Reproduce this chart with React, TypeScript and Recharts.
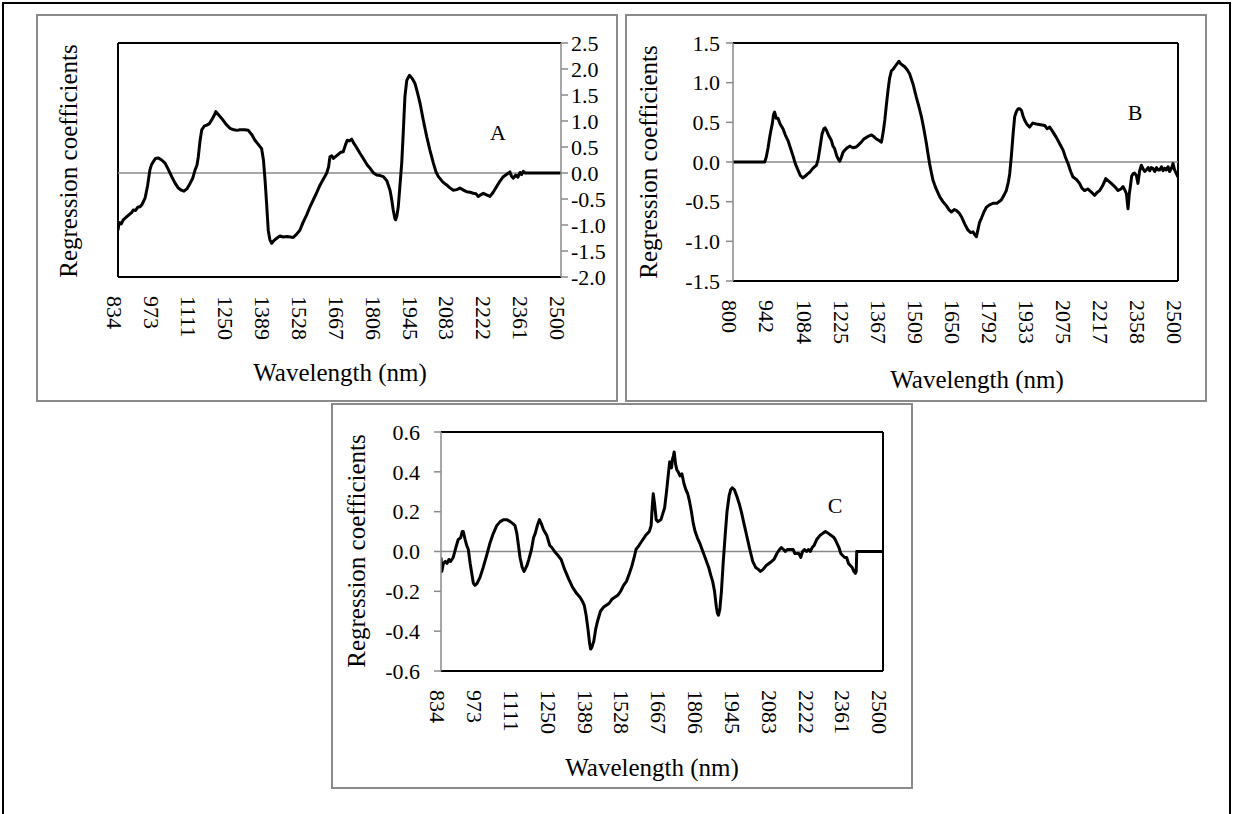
import { LineChart, Line, XAxis, YAxis, ReferenceLine } from "recharts";

const FONT = "'Liberation Serif', 'Times New Roman', Times, serif";
const GRAY = "#8a8a8a";

// tick labels
const ticksA = [834, 973, 1111, 1250, 1389, 1528, 1667, 1806, 1945, 2083, 2222, 2361, 2500];
const ticksB = [800, 942, 1084, 1225, 1367, 1509, 1650, 1792, 1933, 2075, 2217, 2358, 2500];
const ticksC = ticksA;
const yTicksA = [-2, -1.5, -1, -0.5, 0, 0.5, 1, 1.5, 2, 2.5];
const yTicksB = [-1.5, -1, -0.5, 0, 0.5, 1, 1.5];
const yTicksC = [-0.6, -0.4, -0.2, 0, 0.2, 0.4, 0.6];

// [wavelength (nm), regression coefficient]
const seriesA: [number, number][] = [
  [834, -1.1], [838, -0.95], [846, -0.98], [854, -0.9], [865, -0.85], [876, -0.8], [885, -0.76],
  [892, -0.71], [900, -0.72], [908, -0.66], [917, -0.65], [925, -0.6], [936, -0.48], [945, -0.25],
  [954, 0.06], [960, 0.16], [967, 0.22], [975, 0.28], [986, 0.29], [998, 0.25], [1011, 0.19],
  [1024, 0.06], [1036, -0.07], [1048, -0.19], [1061, -0.29], [1072, -0.33], [1082, -0.35],
  [1094, -0.3], [1105, -0.2], [1115, -0.1], [1124, 0.06], [1131, 0.15], [1136, 0.31], [1142, 0.6],
  [1149, 0.83], [1158, 0.9], [1168, 0.92], [1178, 0.95], [1186, 1.02], [1195, 1.1], [1202, 1.18],
  [1212, 1.12], [1224, 1.05], [1240, 0.94], [1255, 0.86], [1270, 0.83], [1282, 0.82], [1293, 0.83],
  [1310, 0.83], [1324, 0.82], [1338, 0.73], [1349, 0.63], [1360, 0.56], [1374, 0.47], [1381, 0.25],
  [1387, -0.13], [1393, -0.6], [1399, -1.1], [1405, -1.28], [1412, -1.35], [1420, -1.3],
  [1430, -1.26], [1443, -1.21], [1455, -1.23], [1470, -1.22], [1482, -1.23], [1493, -1.24],
  [1505, -1.18], [1518, -1.1], [1530, -0.95], [1544, -0.8], [1556, -0.65], [1570, -0.5],
  [1583, -0.36], [1594, -0.23], [1606, -0.12], [1619, 0], [1626, 0.12], [1631, 0.31], [1638, 0.33],
  [1644, 0.28], [1660, 0.35], [1672, 0.4], [1681, 0.41], [1690, 0.55], [1696, 0.63], [1705, 0.62],
  [1713, 0.65], [1720, 0.58], [1730, 0.5], [1744, 0.38], [1760, 0.25], [1772, 0.15], [1782, 0.09],
  [1795, 0], [1807, -0.04], [1820, -0.05], [1832, -0.07], [1845, -0.15], [1857, -0.33],
  [1863, -0.5], [1869, -0.71], [1875, -0.87], [1878, -0.9], [1883, -0.82], [1888, -0.65],
  [1895, -0.2], [1901, 0.19], [1907, 0.8], [1913, 1.47], [1920, 1.78], [1930, 1.88], [1940, 1.82],
  [1951, 1.72], [1960, 1.55], [1970, 1.34], [1982, 1.02], [1995, 0.7], [2007, 0.44], [2020, 0.19],
  [2030, 0.02], [2039, -0.07], [2055, -0.17], [2070, -0.23], [2083, -0.29], [2095, -0.33],
  [2108, -0.32], [2120, -0.29], [2133, -0.33], [2145, -0.36], [2158, -0.37], [2170, -0.39],
  [2180, -0.4], [2189, -0.45], [2198, -0.42], [2208, -0.39], [2220, -0.42], [2233, -0.45],
  [2245, -0.37], [2258, -0.26], [2270, -0.16], [2283, -0.07], [2295, -0.03], [2308, 0.02],
  [2314, -0.06], [2320, -0.1], [2330, -0.04], [2338, -0.08], [2346, 0.01], [2352, -0.03],
  [2358, 0.03], [2365, 0], [2500, 0],
];

const seriesB: [number, number][] = [
  [800, 0], [921, 0], [927, 0.06], [934, 0.18], [940, 0.31], [945, 0.4], [950, 0.48], [955, 0.6],
  [959, 0.63], [965, 0.55], [972, 0.55], [980, 0.48], [991, 0.42], [1000, 0.34], [1010, 0.27],
  [1020, 0.17], [1029, 0.08], [1038, -0.02], [1048, -0.1], [1057, -0.17], [1067, -0.2],
  [1075, -0.18], [1085, -0.15], [1093, -0.13], [1105, -0.08], [1119, -0.04], [1125, 0.03],
  [1131, 0.15], [1140, 0.35], [1147, 0.42], [1152, 0.43], [1157, 0.4], [1166, 0.33], [1176, 0.27],
  [1182, 0.2], [1188, 0.17], [1196, 0.08], [1203, 0.03], [1208, 0.01], [1214, 0.06], [1220, 0.12],
  [1227, 0.15], [1237, 0.18], [1246, 0.2], [1258, 0.18], [1271, 0.19], [1281, 0.22], [1290, 0.25],
  [1300, 0.29], [1310, 0.31], [1320, 0.33], [1329, 0.34], [1338, 0.32], [1348, 0.29], [1358, 0.27],
  [1367, 0.25], [1374, 0.38], [1380, 0.53], [1386, 0.72], [1392, 0.9], [1398, 1.05], [1405, 1.15],
  [1412, 1.17], [1418, 1.2], [1425, 1.23], [1434, 1.27], [1440, 1.24], [1448, 1.22], [1456, 1.2],
  [1466, 1.16], [1475, 1.11], [1488, 0.98], [1500, 0.82], [1510, 0.7], [1520, 0.57], [1530, 0.4],
  [1539, 0.23], [1545, 0.1], [1551, -0.02], [1557, -0.12], [1564, -0.23], [1575, -0.33],
  [1590, -0.44], [1602, -0.5], [1615, -0.55], [1625, -0.6], [1634, -0.63], [1645, -0.6],
  [1653, -0.61], [1663, -0.64], [1673, -0.69], [1685, -0.78], [1698, -0.86], [1708, -0.89],
  [1717, -0.88], [1724, -0.92], [1730, -0.94], [1736, -0.85], [1742, -0.76], [1750, -0.7],
  [1760, -0.62], [1768, -0.57], [1780, -0.54], [1793, -0.52], [1808, -0.52], [1825, -0.48],
  [1835, -0.42], [1844, -0.36], [1852, -0.25], [1857, -0.15], [1863, 0.06], [1870, 0.35],
  [1876, 0.57], [1883, 0.64], [1889, 0.67], [1896, 0.67], [1902, 0.65], [1908, 0.58], [1914, 0.53],
  [1922, 0.48], [1933, 0.44], [1945, 0.49], [1959, 0.48], [1975, 0.47], [1991, 0.46], [2000, 0.42],
  [2010, 0.44], [2022, 0.38], [2035, 0.31], [2048, 0.23], [2061, 0.15], [2070, 0.06], [2080, -0.02],
  [2090, -0.12], [2099, -0.19], [2112, -0.22], [2124, -0.27], [2133, -0.33], [2143, -0.36],
  [2155, -0.34], [2169, -0.38], [2182, -0.42], [2192, -0.38], [2201, -0.36], [2212, -0.3],
  [2224, -0.21], [2235, -0.24], [2245, -0.27], [2258, -0.31], [2271, -0.36], [2282, -0.34],
  [2290, -0.31], [2298, -0.36], [2303, -0.4], [2309, -0.59], [2314, -0.4], [2318, -0.31],
  [2323, -0.18], [2328, -0.15], [2334, -0.14], [2341, -0.17], [2347, -0.27], [2353, -0.12],
  [2360, -0.04], [2367, -0.09], [2373, -0.12], [2379, -0.1], [2386, -0.07], [2392, -0.11],
  [2398, -0.07], [2404, -0.08], [2411, -0.12], [2418, -0.07], [2424, -0.1], [2430, -0.1],
  [2437, -0.06], [2443, -0.11], [2449, -0.08], [2455, -0.1], [2462, -0.06], [2468, -0.12],
  [2475, -0.08], [2481, -0.02], [2487, -0.1], [2493, -0.14], [2500, -0.19],
];

const seriesC: [number, number][] = [
  [834, -0.03], [837, -0.1], [843, -0.06], [850, -0.05], [857, -0.06], [864, -0.04], [870, -0.05],
  [880, -0.03], [890, 0.02], [899, 0.06], [908, 0.07], [914, 0.1], [918, 0.1], [925, 0.06],
  [931, 0.03], [937, 0.01], [944, -0.06], [950, -0.11], [956, -0.16], [962, -0.17], [970, -0.16],
  [981, -0.13], [993, -0.08], [1006, -0.02], [1018, 0.04], [1031, 0.09], [1044, 0.13], [1057, 0.15],
  [1070, 0.16], [1082, 0.16], [1095, 0.15], [1105, 0.14], [1113, 0.13], [1120, 0.09], [1126, 0.03],
  [1132, -0.03], [1140, -0.08], [1147, -0.1], [1151, -0.09], [1158, -0.07], [1165, -0.04],
  [1175, 0.01], [1183, 0.07], [1189, 0.09], [1197, 0.13], [1205, 0.16], [1212, 0.14], [1220, 0.11],
  [1233, 0.08], [1244, 0.03], [1252, 0.02], [1262, 0], [1275, -0.02], [1287, -0.04], [1300, -0.09],
  [1316, -0.14], [1330, -0.18], [1345, -0.21], [1358, -0.23], [1367, -0.25], [1374, -0.27],
  [1381, -0.32], [1388, -0.39], [1394, -0.46], [1398, -0.49], [1403, -0.48], [1410, -0.45],
  [1417, -0.39], [1424, -0.35], [1435, -0.3], [1446, -0.28], [1457, -0.27], [1468, -0.26],
  [1478, -0.24], [1489, -0.23], [1500, -0.22], [1511, -0.2], [1522, -0.17], [1533, -0.15],
  [1544, -0.11], [1554, -0.07], [1562, -0.03], [1569, 0.01], [1580, 0.03], [1590, 0.05],
  [1605, 0.08], [1619, 0.1], [1626, 0.13], [1630, 0.22], [1634, 0.29], [1639, 0.24], [1645, 0.16],
  [1652, 0.15], [1663, 0.16], [1670, 0.19], [1677, 0.22], [1684, 0.3], [1691, 0.39], [1696, 0.45],
  [1699, 0.44], [1703, 0.42], [1706, 0.46], [1710, 0.48], [1713, 0.5], [1718, 0.44], [1723, 0.41],
  [1728, 0.4], [1735, 0.38], [1742, 0.39], [1750, 0.34], [1757, 0.31], [1764, 0.29], [1771, 0.25],
  [1778, 0.2], [1785, 0.14], [1792, 0.1], [1800, 0.07], [1810, 0.04], [1821, 0], [1832, -0.04],
  [1843, -0.08], [1851, -0.12], [1858, -0.15], [1865, -0.2], [1872, -0.28], [1876, -0.31],
  [1880, -0.32], [1885, -0.29], [1891, -0.2], [1898, -0.05], [1905, 0.08], [1912, 0.2], [1920, 0.28],
  [1926, 0.31], [1932, 0.32], [1940, 0.31], [1951, 0.27], [1958, 0.24], [1966, 0.2], [1976, 0.14],
  [1988, 0.07], [1998, 0.01], [2009, -0.05], [2020, -0.08], [2030, -0.09], [2038, -0.1],
  [2048, -0.09], [2060, -0.07], [2070, -0.06], [2080, -0.05], [2089, -0.04], [2100, -0.01],
  [2110, 0.01], [2117, 0.02], [2125, 0.01], [2132, 0], [2139, 0.01], [2146, 0.01], [2154, 0.01],
  [2161, 0.01], [2168, -0.01], [2176, -0.01], [2183, -0.01], [2190, -0.03], [2197, 0], [2204, 0.01],
  [2212, 0], [2219, 0.01], [2226, 0], [2233, 0.02], [2240, 0.03], [2250, 0.06], [2262, 0.08],
  [2272, 0.09], [2283, 0.1], [2295, 0.09], [2305, 0.08], [2315, 0.07], [2320, 0.06], [2327, 0.04],
  [2334, 0.02], [2341, -0.01], [2348, -0.02], [2356, -0.03], [2363, -0.03], [2370, -0.06],
  [2377, -0.07], [2384, -0.08], [2390, -0.1], [2396, -0.11], [2399, -0.1], [2401, 0], [2500, 0],
];

const toRows = (s: [number, number][]) => s.map(([w, v]) => ({ w, v }));

function XTick(props: any) {
  const { x, y, payload } = props;
  const tx = x - 3;
  const ty = y + 19;
  return (
    <text x={tx} y={ty} transform={`rotate(90 ${tx} ${ty})`} textAnchor="start" dy="0.35em"
      fontSize={22} fontFamily={FONT} fill="#000">
      {payload.value}
    </text>
  );
}

type PanelProps = {
  box: { left: number; top: number; width: number; height: number };
  series: [number, number][];
  xTicks: number[];
  yTicks: number[];
  yRight?: boolean;
  yWidth: number;
  xHeight: number;
  tickMargin: number;
  margin: { top: number; right: number; bottom: number; left: number };
};

function Panel({ box, series, xTicks, yTicks, yRight, yWidth, xHeight, tickMargin, margin }: PanelProps) {
  const xMin = xTicks[0];
  const xMax = xTicks[xTicks.length - 1];
  const yMin = yTicks[0];
  const yMax = yTicks[yTicks.length - 1];
  return (
    <>
      <div style={{ position: "absolute", left: box.left, top: box.top }}>
        <LineChart width={box.width} height={box.height} data={toRows(series)} margin={margin}>
          <XAxis dataKey="w" type="number" domain={[xMin, xMax]} ticks={xTicks} interval={0}
            allowDataOverflow axisLine={false} tickLine={false} tickSize={0} tickMargin={0}
            height={xHeight} tick={(p: any) => <XTick {...p} />} />
          <YAxis type="number" domain={[yMin, yMax]} ticks={yTicks} interval={0} allowDataOverflow
            orientation={yRight ? "right" : "left"} width={yWidth}
            tickFormatter={(v: number) => v.toFixed(1)}
            axisLine={{ stroke: GRAY, strokeWidth: 1.5 }} tickLine={{ stroke: GRAY, strokeWidth: 1.5 }}
            tickSize={7} tickMargin={tickMargin}
            tick={{ fontSize: 22, fontFamily: FONT, fill: "#000" }} />
          <ReferenceLine y={yMax} stroke="#000" strokeWidth={2} />
          <ReferenceLine y={yMin} stroke="#000" strokeWidth={2} />
          <ReferenceLine x={yRight ? xMin : xMax} stroke="#000" strokeWidth={2} />
          <ReferenceLine y={0} stroke={GRAY} strokeWidth={1.5} />
          <Line dataKey="v" type="linear" stroke="#000" strokeWidth={3} dot={false}
            strokeLinejoin="round" isAnimationActive={false} />
        </LineChart>
      </div>
      <div style={{
        position: "absolute", left: box.left, top: box.top, width: box.width, height: box.height,
        border: `2px solid ${GRAY}`, boxSizing: "border-box", pointerEvents: "none",
      }} />
    </>
  );
}

const titleStyle = { position: "absolute" as const, fontFamily: FONT, fontSize: 25, lineHeight: 1, whiteSpace: "nowrap" as const, color: "#000" };

function XTitle({ cx, baseline }: { cx: number; baseline: number }) {
  return <div style={{ ...titleStyle, left: cx, top: baseline - 21, transform: "translateX(-50%)" }}>Wavelength (nm)</div>;
}

function YTitle({ cx, cy }: { cx: number; cy: number }) {
  return <div style={{ ...titleStyle, left: cx, top: cy, transform: "translate(-50%, -50%) rotate(-90deg)" }}>Regression coefficients</div>;
}

function Tag({ cx, baseline, text }: { cx: number; baseline: number; text: string }) {
  return <div style={{ ...titleStyle, fontSize: 22, left: cx, top: baseline - 18.4, transform: "translateX(-50%)" }}>{text}</div>;
}

export default function App() {
  return (
    <div style={{ position: "absolute", left: 0, top: 0, width: 1233, height: 814, overflow: "hidden", background: "#fff" }}>
      <div style={{ position: "absolute", left: 2, top: 2, width: 1229, height: 840, border: "2px solid #000", boxSizing: "border-box" }} />

      <Panel box={{ left: 36, top: 14, width: 582, height: 388 }} series={seriesA} xTicks={ticksA}
        yTicks={yTicksA} yRight yWidth={50} xHeight={120} tickMargin={3}
        margin={{ top: 29, right: 7, bottom: 5, left: 82 }} />
      <XTitle cx={340} baseline={381} />
      <YTitle cx={68} cy={161} />
      <Tag cx={498} baseline={140} text="A" />

      <Panel box={{ left: 625, top: 14, width: 582, height: 388 }} series={seriesB} xTicks={ticksB}
        yTicks={yTicksB} yWidth={80} xHeight={116} tickMargin={6}
        margin={{ top: 29, right: 29, bottom: 5, left: 28 }} />
      <XTitle cx={977} baseline={388} />
      <YTitle cx={648} cy={162} />
      <Tag cx={1135} baseline={120} text="B" />

      <Panel box={{ left: 331, top: 403, width: 582, height: 386 }} series={seriesC} xTicks={ticksC}
        yTicks={yTicksC} yWidth={80} xHeight={113} tickMargin={14}
        margin={{ top: 29, right: 30, bottom: 5, left: 30 }} />
      <XTitle cx={652} baseline={776} />
      <YTitle cx={356} cy={551} />
      <Tag cx={835} baseline={513} text="C" />
    </div>
  );
}
